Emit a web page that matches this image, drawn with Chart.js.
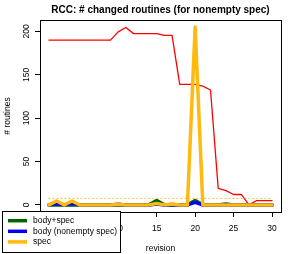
<!DOCTYPE html>
<html>
<head>
<meta charset="utf-8">
<script src="https://cdn.jsdelivr.net/npm/chart.js@4.4.1/dist/chart.umd.min.js"></script>
<style>
  html, body { margin: 0; padding: 0; background: #fff; }
  #wrap { width: 294px; height: 254px; }
</style>
</head>
<body>
<div id="wrap"><canvas id="myChart" width="294" height="254"></canvas></div>
<script>
// revisions on the x axis
const revisions = [1, 2, 3, 4, 5, 6, 7, 8, 9, 10, 11, 12, 13, 14, 15, 16, 17, 18, 19, 20, 21, 22, 23, 24, 25, 26, 27, 28, 29, 30];

// total changed routines (red, not in legend)
const totalRoutines = [190, 190, 190, 190, 190, 190, 190, 190, 190, 199.5, 204.5, 197.5, 197.5, 197.5, 197.5, 195.5, 195.5, 139, 139, 139, 137, 132.5, 19, 16.5, 12, 12, 0, 5, 5, 5];
const bodySpec = [0, 0, 0, 0, 0, 0, 0, 0, 0, 0, 0, 0, 0, 0, 5, 0, 0, 0, 0, 5, 0, 0, 0, 1, 0, 0, 0, 0, 0, 0];
const bodyNonemptySpec = [0, 1.5, 0, 1.5, 0, 0, 0, 0, 0, 0.8, 0, 0, 0, 0, 1, 0, 0.5, 0, 0, 3, 0, 0, 0, 0, 0, 0, 0, 0, 0, 0];
const specOnly = [0, 4.5, 0, 4.5, 0, 0, 0, 0, 0, 0.8, 0, 0, 0, 0, 1.5, 0, 1, 0, 0, 205, 0, 0, 0, 0, 0, 0, 0, 0, 0, 0];
const specLevel = 7.5;

const xTicks = [0, 5, 10, 15, 20, 25, 30];
const yTicks = [0, 50, 100, 150, 200];

const FONT = "'Liberation Sans', Arial, sans-serif";
const toPoints = vals => revisions.map((r, i) => ({ x: r, y: vals[i] }));

const rAxes = {
  id: 'rAxes',
  afterDraw(chart) {
    const { ctx, chartArea: a, scales } = chart;
    ctx.save();
    // plot box
    ctx.strokeStyle = '#000';
    ctx.lineWidth = 1;
    ctx.strokeRect(Math.round(a.left) + 0.5, Math.round(a.top) + 0.5,
      Math.round(a.right - a.left), Math.round(a.bottom - a.top));

    // rotated y tick labels
    ctx.fillStyle = '#000';
    ctx.font = `8.5px ${FONT}`;
    ctx.textAlign = 'center';
    ctx.textBaseline = 'middle';
    yTicks.forEach(v => {
      const y = scales.y.getPixelForValue(v);
      ctx.save();
      ctx.translate(26.5, y);
      ctx.rotate(-Math.PI / 2);
      ctx.fillText(String(v), 0, 0);
      ctx.restore();
    });

    // axis titles
    ctx.save();
    ctx.translate(7.5, (a.top + a.bottom) / 2);
    ctx.rotate(-Math.PI / 2);
    ctx.fillText('# routines', 0, 0);
    ctx.restore();
    ctx.fillText('revision', (a.left + a.right) / 2, 248.5);

    // title
    ctx.font = `bold 10px ${FONT}`;
    ctx.fillText('RCC: # changed routines (for nonempty spec)', (a.left + a.right) / 2, 10);

    // legend
    const lx = 2, ly = 211, lw = 118, lh = 41;
    ctx.fillStyle = '#fff';
    ctx.fillRect(lx, ly, lw, lh);
    ctx.strokeStyle = '#000';
    ctx.strokeRect(lx + 0.5, ly + 0.5, lw, lh);
    const items = chart.data.datasets.filter(d => d.inLegend);
    ctx.font = `8.5px ${FONT}`;
    ctx.textAlign = 'left';
    items.forEach((d, i) => {
      const y = 220.7 + i * 10.6;
      ctx.strokeStyle = d.borderColor;
      ctx.lineWidth = 3.5;
      ctx.beginPath();
      ctx.moveTo(8, y);
      ctx.lineTo(27, y);
      ctx.stroke();
      ctx.fillStyle = '#000';
      ctx.fillText(d.label, 33, y);
    });
    ctx.restore();
  }
};

new Chart(document.getElementById('myChart'), {
  type: 'line',
  data: {
    datasets: [
      { label: 'total', data: toPoints(totalRoutines), borderColor: '#ff0000', borderWidth: 1.3, order: 5 },
      { label: 'body+spec', data: toPoints(bodySpec), borderColor: '#006400', borderWidth: 3.5, order: 4, inLegend: true },
      { label: 'body (nonempty spec)', data: toPoints(bodyNonemptySpec), borderColor: '#0000ff', borderWidth: 3.5, order: 3, inLegend: true },
      { label: 'spec', data: toPoints(specOnly), borderColor: '#ffb90f', borderWidth: 3.5, order: 1, inLegend: true },
      { label: 'level', data: [{ x: revisions[0], y: specLevel }, { x: revisions[revisions.length - 1], y: specLevel }],
        borderColor: '#ffb90f', borderWidth: 1, borderDash: [1, 3], order: 2 }
    ]
  },
  options: {
    responsive: false,
    animation: false,
    layout: { padding: { left: 0, top: 20, right: 13, bottom: 0 } },
    elements: {
      point: { radius: 0 },
      line: { tension: 0, borderJoinStyle: 'round', borderCapStyle: 'round', fill: false }
    },
    plugins: { legend: { display: false }, title: { display: false }, tooltip: { enabled: false } },
    scales: {
      x: {
        type: 'linear',
        min: -0.16,
        max: 31.16,
        afterBuildTicks: s => { s.ticks = xTicks.map(v => ({ value: v })); },
        afterFit: s => { s.height = 42; },
        grid: { display: true, drawOnChartArea: false, drawTicks: true, tickLength: 5, color: '#000' },
        border: { display: true, color: '#000' },
        ticks: { color: '#000', font: { family: FONT, size: 8.5 }, padding: 7, maxRotation: 0, autoSkip: false }
      },
      y: {
        type: 'linear',
        min: -8.2,
        max: 213.2,
        afterBuildTicks: s => { s.ticks = yTicks.map(v => ({ value: v })); },
        afterFit: s => { s.width = 40; },
        grid: { display: true, drawOnChartArea: false, drawTicks: true, tickLength: 5, color: '#000' },
        border: { display: true, color: '#000' },
        ticks: { display: false }
      }
    }
  },
  plugins: [rAxes]
});
</script>
</body>
</html>
